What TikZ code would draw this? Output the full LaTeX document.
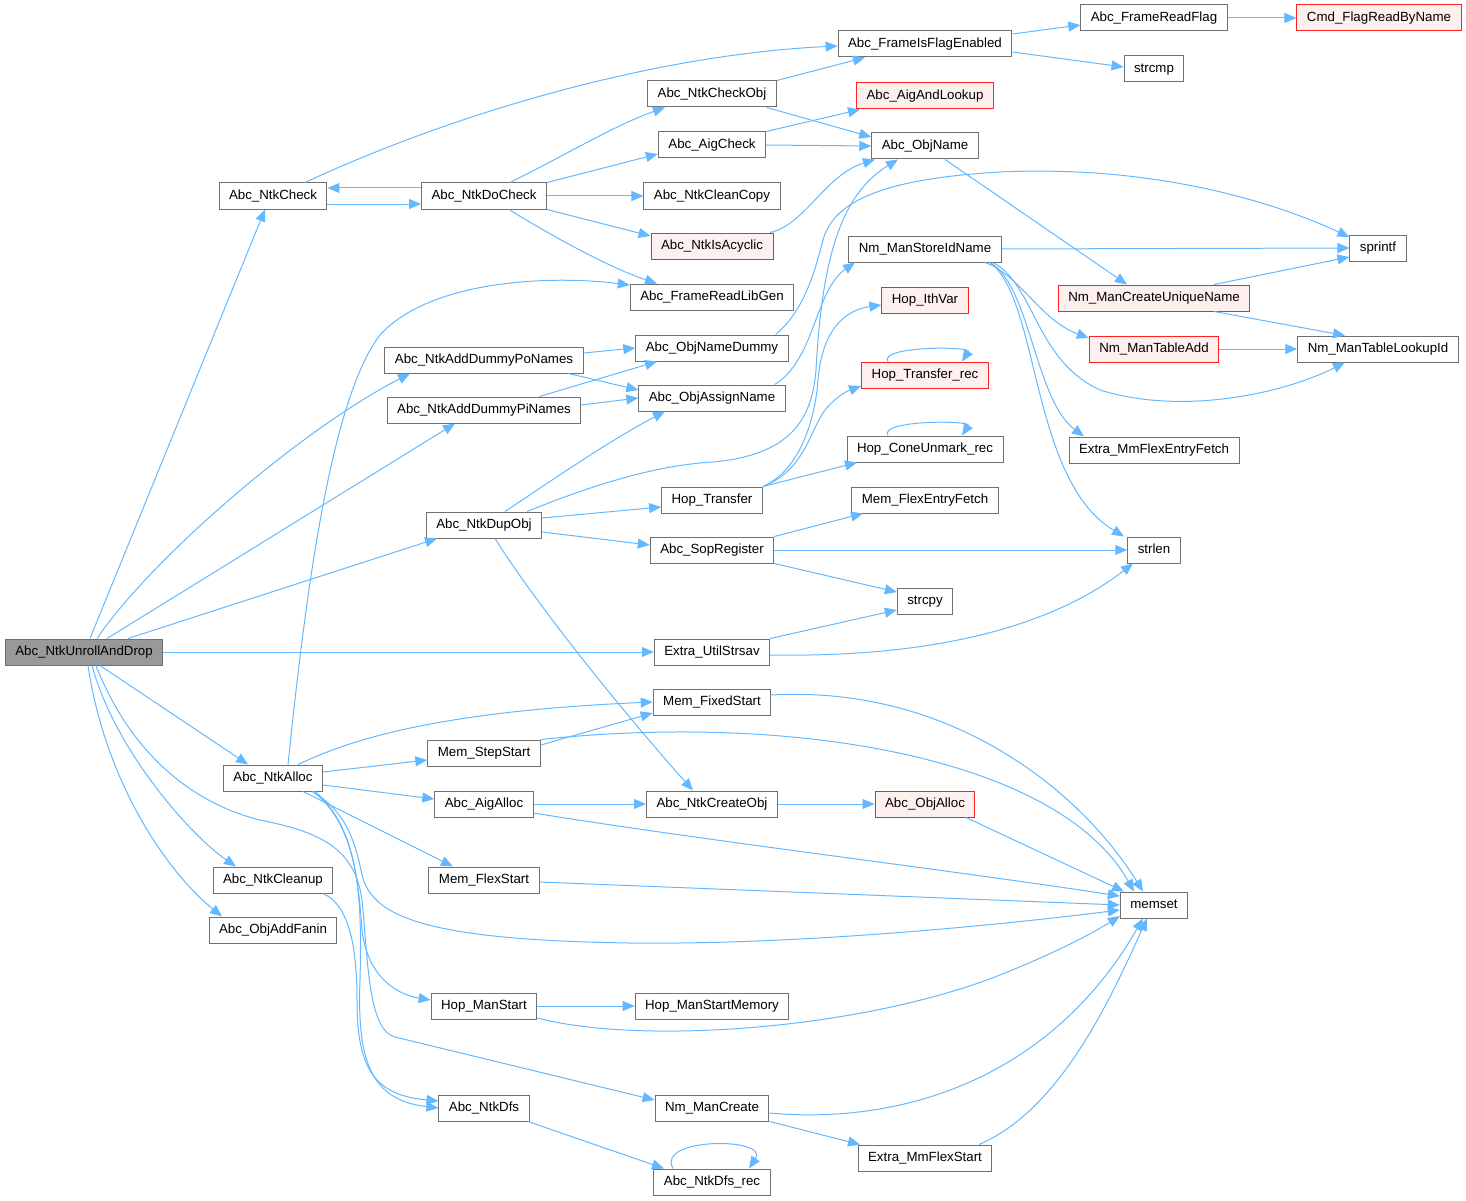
\documentclass[tikz,border=0pt]{standalone}
\usepackage{fontspec}
\setmainfont{Liberation Sans}
\usetikzlibrary{arrows.meta}
\definecolor{edgec}{HTML}{63B8FF}
\definecolor{bordc}{HTML}{707070}
\definecolor{redb}{HTML}{FF2020}
\definecolor{redf}{HTML}{FFF0F0}
\definecolor{grayf}{HTML}{999999}
\begin{document}
\begin{tikzpicture}[x=1pt,y=-1pt,
 fn/.style={draw=bordc, fill=white, line width=1pt, inner xsep=10pt, inner ysep=0pt, minimum height=26pt, text height=10pt, text depth=3pt, font=\fontsize{13.3}{16}\selectfont},
 rn/.style={fn, draw=redb, fill=redf},
 gn/.style={fn, fill=grayf},
 e/.style={draw=edgec, line width=1pt, -{Triangle[length=12pt,width=10pt]}}]
\useasboundingbox (0,0) rectangle (1466,1201);
% nodes
\node[gn] (n0) at (84,652) {Abc\_NtkUnrollAndDrop};
\node[fn] (check) at (273,196) {Abc\_NtkCheck};
\node[fn] (docheck) at (484,196) {Abc\_NtkDoCheck};
\node[fn] (flag) at (925,44) {Abc\_FrameIsFlagEnabled};
\node[fn] (readflag) at (1154,18) {Abc\_FrameReadFlag};
\node[rn] (cmdflag) at (1379,18) {Cmd\_FlagReadByName};
\node[fn] (strcmp) at (1154,69) {strcmp};
\node[fn] (checkobj) at (712,94) {Abc\_NtkCheckObj};
\node[rn] (aigand) at (925,96) {Abc\_AigAndLookup};
\node[fn] (aigcheck) at (712,145) {Abc\_AigCheck};
\node[fn] (objname) at (925,146) {Abc\_ObjName};
\node[fn] (cleancopy) at (712,196) {Abc\_NtkCleanCopy};
\node[rn] (acyclic) at (712,246) {Abc\_NtkIsAcyclic};
\node[fn] (storeid) at (925,249) {Nm\_ManStoreIdName};
\node[fn] (sprintf) at (1378,248) {sprintf};
\node[fn] (libgen) at (712,297) {Abc\_FrameReadLibGen};
\node[rn] (ithvar) at (925,300) {Hop\_IthVar};
\node[rn] (unique) at (1154,298) {Nm\_ManCreateUniqueName};
\node[fn] (dpo) at (484,360) {Abc\_NtkAddDummyPoNames};
\node[fn] (namedummy) at (712,348) {Abc\_ObjNameDummy};
\node[rn] (trec) at (925,375) {Hop\_Transfer\_rec};
\node[rn] (tadd) at (1154,349) {Nm\_ManTableAdd};
\node[fn] (lookup) at (1378,349) {Nm\_ManTableLookupId};
\node[fn] (dpi) at (484,410) {Abc\_NtkAddDummyPiNames};
\node[fn] (assign) at (712,398) {Abc\_ObjAssignName};
\node[fn] (cone) at (925,449) {Hop\_ConeUnmark\_rec};
\node[fn] (mmfetch) at (1154,450) {Extra\_MmFlexEntryFetch};
\node[fn] (transfer) at (712,500) {Hop\_Transfer};
\node[fn] (memfetch) at (925,500) {Mem\_FlexEntryFetch};
\node[fn] (dupobj) at (484,525) {Abc\_NtkDupObj};
\node[fn] (sop) at (712,550) {Abc\_SopRegister};
\node[fn] (strlen) at (1154,550) {strlen};
\node[fn] (strcpy) at (925,601) {strcpy};
\node[fn] (strsav) at (712,652) {Extra\_UtilStrsav};
\node[fn] (fixed) at (712,702) {Mem\_FixedStart};
\node[fn] (stepst) at (484,753) {Mem\_StepStart};
\node[fn] (alloc) at (273,778) {Abc\_NtkAlloc};
\node[fn] (aigalloc) at (484,804) {Abc\_AigAlloc};
\node[fn] (createobj) at (712,804) {Abc\_NtkCreateObj};
\node[rn] (objalloc) at (925,804) {Abc\_ObjAlloc};
\node[fn] (flexstart) at (484,880) {Mem\_FlexStart};
\node[fn] (cleanup) at (273,880) {Abc\_NtkCleanup};
\node[fn] (memset) at (1154,905) {memset};
\node[fn] (addfanin) at (273,930) {Abc\_ObjAddFanin};
\node[fn] (hopstart) at (484,1006) {Hop\_ManStart};
\node[fn] (hopmem) at (712,1006) {Hop\_ManStartMemory};
\node[fn] (dfs) at (484,1108) {Abc\_NtkDfs};
\node[fn] (nmcreate) at (712,1108) {Nm\_ManCreate};
\node[fn] (mmflex) at (925,1158) {Extra\_MmFlexStart};
\node[fn] (dfsrec) at (712,1182) {Abc\_NtkDfs\_rec};
% edges from Abc_NtkUnrollAndDrop
\draw[e] ([xshift=6pt]n0.north) -- ([xshift=-8pt]check.south);
\draw[e] ([xshift=13pt]n0.north) .. controls (150,560) and (300,430) .. ([xshift=-74pt]dpo.south);
\draw[e] ([xshift=23pt]n0.north) -- ([xshift=-29pt]dpi.south);
\draw[e] ([xshift=44pt]n0.north) -- ([xshift=-47pt]dupobj.south);
\draw[e] (n0.east) -- (strsav.west);
\draw[e] ([xshift=16pt]n0.south) -- ([xshift=-25pt]alloc.north);
\draw[e] ([xshift=8pt]n0.south) .. controls (115,750) and (190,835) .. ([xshift=-37pt]cleanup.north);
\draw[e] ([xshift=4pt]n0.south) .. controls (105,780) and (165,870) .. ([xshift=-51pt]addfanin.north);
\draw[e] ([xshift=12pt]n0.south) .. controls (125,740) and (180,800) .. (260,820) .. controls (320,832) and (355,848) .. (362,900) .. controls (368,960) and (368,1030) .. (395,1037) -- ([yshift=8pt]nmcreate.west);
% check / docheck
\draw[e] ([yshift=-8pt]check.east) -- ([yshift=-8pt]docheck.west);
\draw[e] ([yshift=8pt]docheck.west) -- ([yshift=8pt]check.east);
\draw[e] ([xshift=32pt]check.north) .. controls (450,115) and (650,55) .. ([yshift=-2pt]flag.west);
\draw[e] ([xshift=26pt]docheck.north) .. controls (560,158) and (615,125) .. ([xshift=-47pt]checkobj.south);
\draw[e] (docheck.north east) -- ([yshift=-9pt]aigcheck.west);
\draw[e] (docheck.east) -- (cleancopy.west);
\draw[e] (docheck.south east) -- ([yshift=10pt]acyclic.west);
\draw[e] ([xshift=25pt]docheck.south) .. controls (550,235) and (610,268) .. ([xshift=-55pt]libgen.north);
\draw[e] (checkobj.north east) -- ([xshift=-60pt]flag.south);
\draw[e] ([xshift=-10pt]checkobj.south east) -- ([yshift=9pt]objname.west);
\draw[e] (aigcheck.north east) -- ([xshift=-65pt]aigand.south);
\draw[e] (aigcheck.east) -- (objname.west);
\draw[e] ([xshift=58pt]acyclic.north) .. controls (805,225) and (825,175) .. ([xshift=-50pt]objname.south);
\draw[e] ([yshift=10pt]flag.east) -- ([yshift=-7pt]readflag.west);
\draw[e] ([yshift=-8pt]flag.east) -- ([yshift=2pt]strcmp.west);
\draw[e] (readflag.east) -- (cmdflag.west);
\draw[e] ([xshift=20pt]objname.south) -- ([xshift=-27pt]unique.north);
\draw[e] ([xshift=60pt]unique.north) -- ([yshift=-9pt]sprintf.west);
\draw[e] ([xshift=60pt]unique.south) -- ([xshift=-33pt]lookup.north);
\draw[e] (storeid.east) -- (sprintf.west);
\draw[e] ([xshift=60pt]storeid.south) .. controls (1020,275) and (1040,320) .. ([yshift=11pt]tadd.west);
\draw[e] ([xshift=68pt]storeid.south) .. controls (1035,285) and (1035,360) .. (1100,390) .. controls (1180,415) and (1280,395) .. ([xshift=-33pt]lookup.south);
\draw[e] ([xshift=65pt]storeid.south) .. controls (1030,285) and (1035,400) .. ([xshift=-70pt]mmfetch.north);
\draw[e] ([xshift=65pt]storeid.south) .. controls (1040,300) and (1030,480) .. ([xshift=-30pt]strlen.north);
\draw[e] (tadd.east) -- (lookup.west);
% dummy names
\draw[e] ([yshift=7pt]dpo.east) -- (namedummy.west);
\draw[e] ([xshift=-15pt]dpo.south east) -- ([yshift=8pt]assign.west);
\draw[e] ([xshift=-42pt]dpi.north east) -- ([xshift=-55pt]namedummy.south);
\draw[e] ([yshift=5pt]dpi.east) -- (assign.west);
\draw[e] ([xshift=-13pt]namedummy.north east) .. controls (805,310) and (815,270) .. (823,240) .. controls (835,195) and (900,178) .. (1000,172) .. controls (1150,165) and (1270,200) .. ([yshift=11pt]sprintf.west);
\draw[e] ([xshift=-11pt]assign.north east) .. controls (815,360) and (815,290) .. ([xshift=-70pt]storeid.south);
% dupobj
\draw[e] ([xshift=21pt]dupobj.north) .. controls (545,485) and (610,440) .. ([xshift=-47pt]assign.south);
\draw[e] ([xshift=43pt]dupobj.north) .. controls (600,482) and (660,465) .. (713,462) .. controls (790,455) and (812,420) .. (816,370) .. controls (822,260) and (840,195) .. ([xshift=-27pt]objname.south);
\draw[e] ([yshift=7pt]dupobj.east) -- ([yshift=-7pt]transfer.west);
\draw[e] ([yshift=-7pt]dupobj.east) -- ([yshift=5pt]sop.west);
\draw[e] ([xshift=11pt]dupobj.south) .. controls (540,610) and (630,720) .. ([xshift=-19pt]createobj.north);
% transfer
\draw[e] ([xshift=51pt]transfer.north) .. controls (800,470) and (815,420) .. (818,380) .. controls (822,330) and (845,310) .. ([yshift=-5pt]ithvar.west);
\draw[e] ([xshift=51pt]transfer.north) .. controls (805,470) and (810,430) .. (825,410) .. controls (835,398) and (845,392) .. ([yshift=-11pt]trec.west);
\draw[e] ([xshift=51pt]transfer.north) -- ([xshift=-68pt]cone.south);
\draw[e] ([xshift=-37pt]trec.north) .. controls (878,346) and (972,346) .. ([xshift=37pt]trec.north);
\draw[e] ([xshift=-37pt]cone.north) .. controls (878,420) and (972,420) .. ([xshift=37pt]cone.north);
% sop, strsav
\draw[e] (sop.north east) -- ([xshift=-62pt]memfetch.south);
\draw[e] (sop.east) -- (strlen.west);
\draw[e] (sop.south east) -- ([yshift=9pt]strcpy.west);
\draw[e] (strsav.north east) -- ([yshift=-9pt]strcpy.west);
\draw[e] ([yshift=-3pt]strsav.east) .. controls (950,658) and (1060,620) .. ([xshift=-21pt]strlen.south);
% memory
\draw[e] ([yshift=7pt]fixed.east) .. controls (950,685) and (1080,790) .. ([xshift=-11pt]memset.north);
\draw[e] ([yshift=8pt]stepst.east) -- ([yshift=-11pt]fixed.west);
\draw[e] (stepst.north east) .. controls (800,712) and (1060,760) .. ([xshift=-20pt]memset.north);
% alloc
\draw[e] ([xshift=15pt]alloc.north) .. controls (305,600) and (330,400) .. (380,335) .. controls (430,280) and (550,275) .. ([yshift=12pt]libgen.west);
\draw[e] ([xshift=25pt]alloc.north) .. controls (340,745) and (420,712) .. (fixed.west);
\draw[e] ([yshift=6pt]alloc.east) -- ([yshift=-7pt]stepst.west);
\draw[e] ([yshift=-7pt]alloc.east) -- ([yshift=5pt]aigalloc.west);
\draw[e] ([xshift=30pt]alloc.south) -- ([xshift=-31pt]flexstart.north);
\draw[e] ([xshift=39pt]alloc.south) .. controls (345,810) and (355,840) .. (362,875) .. controls (372,915) and (420,940) .. (630,943) .. controls (800,945) and (1000,925) .. ([yshift=-5pt]memset.west);
\draw[e] ([xshift=40pt]alloc.south) .. controls (350,820) and (358,870) .. (362,930) .. controls (368,980) and (400,995) .. ([yshift=6pt]hopstart.west);
\draw[e] ([xshift=42pt]alloc.south) .. controls (360,830) and (362,900) .. (360,980) .. controls (357,1060) and (370,1100) .. (dfs.west);
\draw[e] ([xshift=50pt]cleanup.south) .. controls (350,905) and (357,950) .. (357,1000) .. controls (357,1070) and (375,1095) .. ([yshift=7pt]dfs.west);
\draw[e] (aigalloc.east) -- (createobj.west);
\draw[e] ([yshift=-9pt]aigalloc.east) .. controls (700,840) and (950,870) .. ([yshift=9pt]memset.west);
\draw[e] (createobj.east) -- (objalloc.west);
\draw[e] ([xshift=41pt]objalloc.south) -- ([xshift=-30pt]memset.north);
\draw[e] ([yshift=-2pt]flexstart.east) -- (memset.west);
\draw[e] (hopstart.east) -- (hopmem.west);
\draw[e] ([yshift=-12pt]hopstart.east) .. controls (640,1045) and (860,1030) .. (1000,975) .. controls (1050,955) and (1090,935) .. ([yshift=-11pt]memset.west);
\draw[e] ([yshift=-5pt]nmcreate.east) .. controls (900,1125) and (1050,1080) .. ([xshift=-11pt]memset.south);
\draw[e] (nmcreate.south east) -- ([xshift=-65pt]mmflex.north);
\draw[e] ([xshift=54pt]mmflex.north) .. controls (1060,1110) and (1110,1000) .. ([xshift=-7pt]memset.south);
\draw[e] ([xshift=44pt]dfs.south) -- ([xshift=-48pt]dfsrec.north);
\draw[e] ([xshift=-39pt]dfsrec.north) .. controls (655,1137) and (770,1137) .. ([xshift=37pt]dfsrec.north);
\end{tikzpicture}
\end{document}
